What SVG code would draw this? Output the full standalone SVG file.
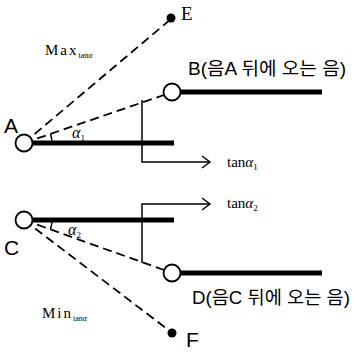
<svg xmlns="http://www.w3.org/2000/svg" width="355" height="352" viewBox="0 0 355 352">
<style>
.thick{stroke:#000;stroke-width:5;fill:none}
.thin{stroke:#000;stroke-width:1.5;fill:none}
.dash{stroke:#000;stroke-width:1.8;fill:none;stroke-dasharray:9 5}
.node{fill:#fff;stroke:#000;stroke-width:1.8}
.dot{fill:#000}
.lbl{font-family:"Liberation Sans","Noto Sans CJK KR",sans-serif;fill:#000}
.ser{font-family:"Liberation Serif","DejaVu Serif",serif;fill:#000}
</style>
<rect width="355" height="352" fill="#fff"/>
<g id="connectors">
  <line class="dash" x1="24" y1="143" x2="171" y2="19"/>
  <line class="dash" x1="24" y1="143" x2="164" y2="95"/>
  <line class="dash" x1="24" y1="220" x2="164" y2="270"/>
  <line class="dash" x1="24" y1="220" x2="171" y2="332"/>
  <line class="thick" x1="32" y1="143" x2="174" y2="143"/>
  <line class="thick" x1="180" y1="92" x2="322" y2="92"/>
  <line class="thick" x1="32" y1="220" x2="174" y2="220"/>
  <line class="thick" x1="180" y1="273" x2="322" y2="273"/>
  <polyline class="thin" points="142,100 142,162 210,162"/>
  <polyline class="thin" points="202,156 210,162 202,168"/>
  <polyline class="thin" points="142,263 142,204 210,204"/>
  <polyline class="thin" points="202,198 210,204 202,210"/>
  <path class="thin" d="M52,143 A28,28 0 0 0 50.5,134"/>
  <path class="thin" d="M52,220 A28,28 0 0 1 50.4,229.3"/>
</g>
<g id="A">
  <circle class="node" cx="24" cy="143" r="8.5"/>
  <text class="lbl" x="4" y="133" font-size="21">A</text>
</g>
<g id="B">
  <circle class="node" cx="172" cy="92" r="8.5"/>
  <text class="lbl" x="188" y="75" font-size="18" textLength="158" lengthAdjust="spacingAndGlyphs">B(음A 뒤에 오는 음)</text>
</g>
<g id="C">
  <circle class="node" cx="24" cy="220" r="8.5"/>
  <text class="lbl" x="4" y="255" font-size="21">C</text>
</g>
<g id="D">
  <circle class="node" cx="172" cy="273" r="8.5"/>
  <text class="lbl" x="192" y="304" font-size="18" textLength="158" lengthAdjust="spacingAndGlyphs">D(음C 뒤에 오는 음)</text>
</g>
<g id="E">
  <circle class="dot" cx="171" cy="18" r="4.5"/>
  <text class="ser" x="181" y="20" font-size="19">E</text>
</g>
<g id="F">
  <circle class="dot" cx="172" cy="333" r="4.5"/>
  <text class="lbl" x="186" y="347" font-size="21">F</text>
</g>
<g id="labels">
  <text class="ser" x="45" y="55" font-size="15" letter-spacing="2">Max<tspan font-size="8" dy="3" letter-spacing="0">tan<tspan font-style="italic">α</tspan></tspan></text>
  <text class="ser" x="42" y="318" font-size="15" letter-spacing="2">Min<tspan font-size="8" dy="3" letter-spacing="0">tan<tspan font-style="italic">α</tspan></tspan></text>
  <text class="ser" x="72" y="138" font-size="16" font-style="italic">α<tspan font-size="9" dy="3" font-style="normal">1</tspan></text>
  <text class="ser" x="68" y="235" font-size="16" font-style="italic">α<tspan font-size="9" dy="3" font-style="normal">2</tspan></text>
  <text class="ser" x="227" y="167" font-size="15">tan<tspan font-style="italic">α</tspan><tspan font-size="9" dy="3">1</tspan></text>
  <text class="ser" x="227" y="208" font-size="15">tan<tspan font-style="italic">α</tspan><tspan font-size="9" dy="3">2</tspan></text>
</g>
</svg>
